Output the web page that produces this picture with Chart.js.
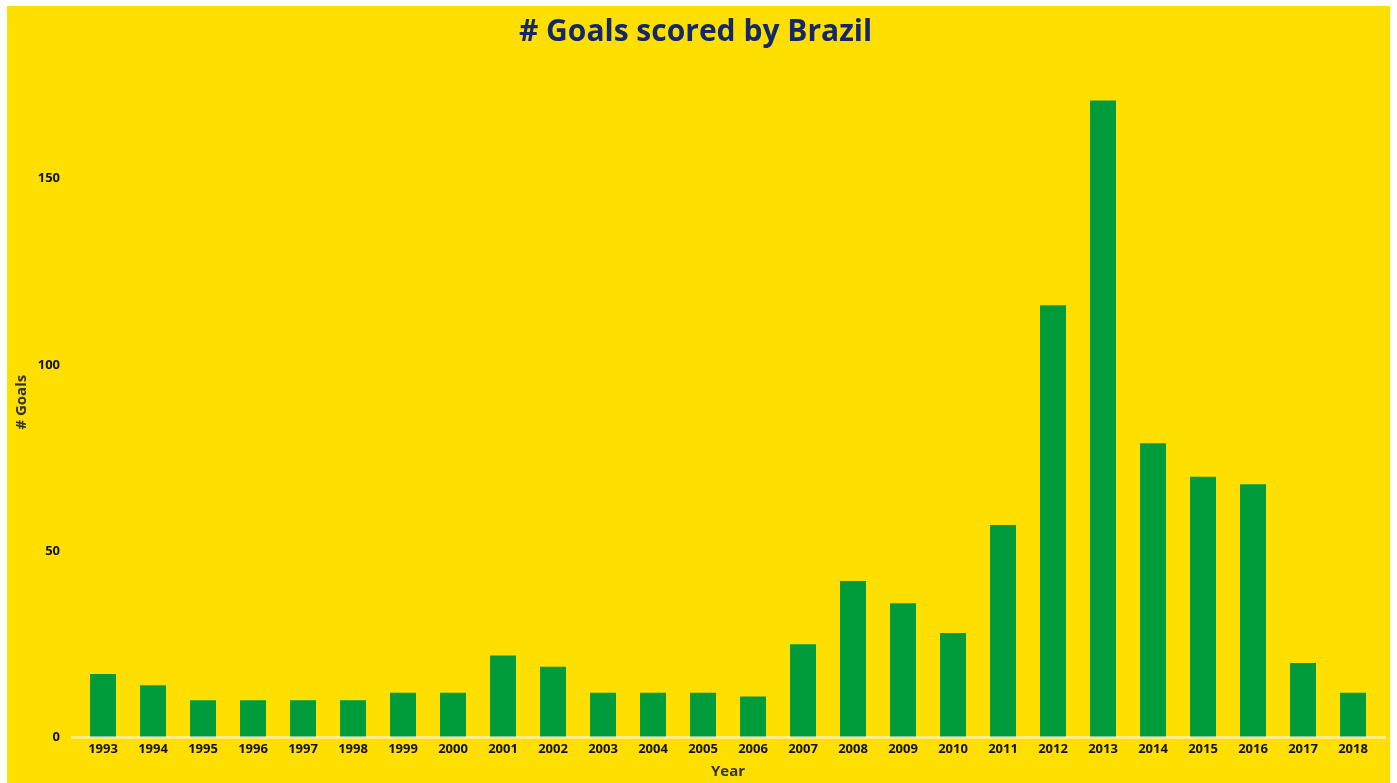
<!DOCTYPE html>
<html>
<head>
<meta charset="utf-8">
<script src="https://cdn.jsdelivr.net/npm/chart.js@4.4.0/dist/chart.umd.min.js"></script>
<style>
  html, body { margin: 0; padding: 0; background: #ffffff; }
  #wrap { position: absolute; left: 7px; top: 6px; width: 1383px; height: 777px; background: #FFDF00; }
  canvas { display: block; }
</style>
</head>
<body>
<div id="wrap"><canvas id="c" width="1383" height="777"></canvas></div>
<script>
const years = ["1993","1994","1995","1996","1997","1998","1999","2000","2001","2002","2003","2004","2005","2006","2007","2008","2009","2010","2011","2012","2013","2014","2015","2016","2017","2018"];
const goals = [17,14,10,10,10,10,12,12,22,19,12,12,12,11,25,42,36,28,57,116,171,79,70,68,20,12];
const yTicks = [0,50,100,150];

const baseLine = {
  id: 'baseLine',
  afterDatasetsDraw(chart) {
    const { ctx, chartArea, scales } = chart;
    const y = scales.y.getPixelForValue(0);
    ctx.save();
    ctx.strokeStyle = 'rgba(255,255,255,0.5)';
    ctx.lineWidth = 3;
    ctx.beginPath();
    ctx.moveTo(chartArea.left - 7, y);
    ctx.lineTo(chartArea.right + 8, y);
    ctx.stroke();
    ctx.restore();
  }
};

const ctx = document.getElementById('c').getContext('2d');
new Chart(ctx, {
  type: 'bar',
  data: {
    labels: years,
    datasets: [{
      label: '# Goals',
      data: goals,
      backgroundColor: '#009B3A',
      borderWidth: 0,
      barPercentage: 0.52,
      categoryPercentage: 1.0
    }]
  },
  plugins: [baseLine],
  options: {
    responsive: false,
    animation: false,
    layout: { padding: { left: 6, right: 12, top: 0, bottom: 2 } },
    plugins: {
      legend: { display: false },
      tooltip: { enabled: false },
      title: {
        display: true,
        text: '# Goals scored by Brazil',
        color: '#13286B',
        font: { family: 'Open Sans', size: 30, weight: 'bold' },
        padding: { top: 8, bottom: 17 }
      }
    },
    scales: {
      x: {
        grid: { display: false, drawTicks: false },
        border: { display: false },
        ticks: { color: '#111', font: { family: 'Open Sans', size: 13, weight: 'bold' }, padding: 4, maxRotation: 0 },
        title: { display: true, text: 'Year', color: '#333', font: { family: 'Open Sans', size: 15, weight: 'bold' }, padding: { top: 2, bottom: 0 } }
      },
      y: {
        min: 0,
        max: 180,
        grid: { display: false, drawTicks: false },
        border: { display: false },
        afterBuildTicks: (axis) => { axis.ticks = yTicks.map(v => ({ value: v })); },
        afterFit: (axis) => { axis.width = 65; },
        ticks: { color: '#111', font: { family: 'Open Sans', size: 13, weight: 'bold' }, padding: 18 },
        title: { display: true, text: '# Goals', color: '#333', font: { family: 'Open Sans', size: 15, weight: 'bold' }, padding: { top: 0, bottom: 6 } }
      }
    }
  }
});
</script>
</body>
</html>
